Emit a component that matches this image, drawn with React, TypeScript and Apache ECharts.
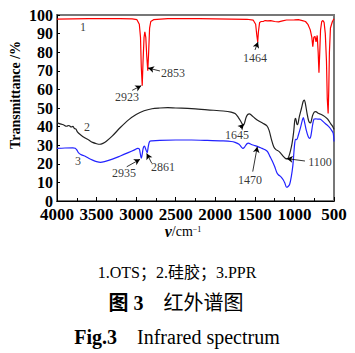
import React, { useEffect, useRef } from "react";
import * as echarts from "echarts";

const xTicks = [4000, 3500, 3000, 2500, 2000, 1500, 1000, 500];
const yTicks = [0, 10, 20, 30, 40, 50, 60, 70, 80, 90, 100];

// Series 1: OTS (red)
const ots: [number, number][] = [
  [4000, 97.8], [3800, 97.9], [3600, 98], [3400, 98.1], [3200, 98], [3050, 97.9], [2990, 97.5],
  [2960, 95], [2945, 88], [2935, 72], [2923, 62], [2913, 75], [2900, 88], [2890, 91], [2878, 88],
  [2866, 78], [2853, 70], [2842, 80], [2830, 93], [2815, 96.5], [2780, 97.5], [2600, 98], [2200, 98],
  [1800, 97.8], [1600, 97.7], [1520, 97.2], [1490, 95], [1475, 89], [1464, 85.5], [1455, 91],
  [1440, 96], [1420, 96.5], [1390, 96.6], [1370, 97], [1340, 96.8], [1300, 97], [1250, 96.5],
  [1200, 96.3], [1150, 96.8], [1100, 97.3], [1000, 97.4], [950, 97.5], [900, 97], [860, 96.5],
  [830, 95], [800, 92], [780, 88], [768, 83], [755, 88], [740, 88.5], [727, 85.6], [712, 89],
  [700, 80], [690, 69], [680, 80], [670, 92], [655, 96.5], [640, 97], [625, 96], [610, 90],
  [595, 75], [585, 55], [574, 47], [566, 60], [558, 80], [545, 93], [520, 96.5], [500, 98],
];

// Series 2: silica gel (black)
const silica: [number, number][] = [
  [4000, 42], [3960, 41.5], [3920, 41], [3880, 40.2], [3850, 40.6], [3820, 39.8], [3800, 40.1],
  [3780, 39], [3760, 38.6], [3740, 37], [3700, 35.5], [3650, 34], [3600, 32.8], [3550, 31.5],
  [3500, 30.8], [3460, 30.5], [3420, 31], [3380, 32], [3300, 35], [3200, 39.5], [3100, 43.5],
  [3000, 46.5], [2900, 48.5], [2800, 49.6], [2700, 50], [2600, 50.2], [2500, 50], [2300, 49.7],
  [2100, 49], [1900, 48.4], [1800, 47.8], [1750, 47], [1710, 45], [1680, 43], [1660, 41.5],
  [1645, 40.8], [1630, 42], [1610, 45], [1590, 46.5], [1570, 46.8], [1540, 46], [1500, 44.5],
  [1450, 43], [1400, 41.8], [1350, 40.5], [1320, 38], [1290, 33], [1260, 29], [1230, 27.5],
  [1200, 26.8], [1170, 25.5], [1140, 24], [1110, 22.8], [1090, 22.7], [1070, 24], [1050, 27],
  [1030, 31], [1010, 37], [995, 43.5], [985, 44.5], [970, 41.5], [960, 41], [940, 45], [910, 50],
  [890, 53.5], [875, 54.2], [860, 52], [840, 47], [820, 43], [800, 42], [790, 42.5], [770, 46],
  [750, 47.8], [730, 48], [700, 47.2], [660, 46.5], [620, 45.5], [580, 44], [540, 41.5],
  [515, 40], [500, 38.5],
];

// Series 3: PPR (blue)
const ppr: [number, number][] = [
  [4000, 28.3], [3900, 28.5], [3800, 28.6], [3770, 28.4], [3750, 27.5], [3730, 26], [3700, 25],
  [3650, 24.2], [3600, 23], [3550, 22], [3500, 21.2], [3450, 20.8], [3400, 21.2], [3300, 22.5],
  [3200, 24.2], [3100, 26], [3020, 27.5], [2980, 28.3], [2960, 28], [2950, 26], [2935, 23],
  [2922, 25.5], [2910, 28.5], [2895, 29.5], [2880, 28], [2861, 26], [2848, 29], [2830, 32],
  [2800, 32.3], [2700, 32.6], [2500, 32.8], [2300, 32.8], [2100, 32.6], [1900, 32.3], [1800, 32],
  [1750, 31.5], [1700, 30.5], [1670, 29], [1650, 28.3], [1630, 29], [1600, 30.8], [1580, 31.1],
  [1550, 30.5], [1500, 29.8], [1470, 29.4], [1420, 28.5], [1370, 27.5], [1340, 26.5], [1310, 24],
  [1280, 21.5], [1250, 18.5], [1220, 15], [1200, 14], [1170, 13], [1140, 11.3], [1120, 9.5],
  [1100, 7.4], [1080, 7.8], [1060, 9], [1040, 13], [1020, 19], [1005, 27], [995, 31.5],
  [985, 33.2], [970, 33], [950, 35.5], [920, 40], [900, 43.5], [888, 44.8], [875, 43], [850, 38],
  [825, 34.5], [805, 33.7], [790, 35.5], [770, 41], [753, 44], [730, 44.2], [700, 44], [677, 44],
  [640, 42.8], [600, 41.3], [560, 39.7], [530, 38], [510, 36.5], [500, 32],
];

// Peak annotations: [textX, textY, label]
const peakLabels: [number, number, string][] = [
  [3116, 55.9, "2923"], [2534, 68.8, "2853"], [1498, 76.9, "1464"], [1726, 35.5, "1645"],
  [677, 21.1, "1100"], [1561, 11.3, "1470"], [3153, 15.2, "2935"], [2661, 18.4, "2861"],
  [3671, 93.5, "1"], [3621, 39.8, "2"], [3735, 21.5, "3"],
];
// Arrows: [fromX, fromY, toX, toY]
const arrows: [number, number, number, number][] = [
  [3050, 59.5, 2935, 62], [2699, 69.9, 2850, 71.5], [1498, 81.2, 1460, 85.5],
  [1688, 39.2, 1637, 41.4], [867, 21.5, 1098, 22.8], [1527, 15.8, 1469, 29.2],
  [3119, 18.4, 2951, 22.4], [2803, 20.3, 2867, 25.6],
];

const serif = "Liberation Serif";
const cjk = "Liberation Serif, Noto Sans CJK SC";

export default function App() {
  const ref = useRef<HTMLDivElement>(null);
  useEffect(() => {
    if (!ref.current) return;
    const chart = echarts.init(ref.current, null, { renderer: "svg" });
    chart.setOption({
      animation: false,
      grid: {
        left: 57, right: 21, top: 15, bottom: 152,
        show: true, borderColor: "#777", borderWidth: 2, backgroundColor: "transparent",
      },
      xAxis: {
        type: "value", inverse: true, min: 500, max: 4000, interval: 500,
        axisLine: { lineStyle: { color: "#000", width: 1 } },
        axisTick: { inside: true, length: 4, lineStyle: { color: "#000" } },
        minorTick: { show: true, splitNumber: 2, length: 3, lineStyle: { color: "#000" } },
        splitLine: { show: false },
        axisLabel: {
          color: "#000", fontFamily: serif, fontWeight: "bold", fontSize: 17, margin: 7,
          lineHeight: 12,
          formatter: (v: number) => (xTicks.includes(v) ? String(v) : ""),
        },
      },
      yAxis: {
        type: "value", min: 0, max: 100, interval: 10,
        axisLine: { show: true, lineStyle: { color: "#000", width: 1 } },
        axisTick: { show: true, inside: true, length: 3, lineStyle: { color: "#000" } },
        splitLine: { show: false },
        axisLabel: {
          color: "#000", fontFamily: serif, fontWeight: "bold", fontSize: 16, margin: 4,
          lineHeight: 10,
          formatter: (v: number) => (yTicks.includes(v) ? String(v) : ""),
        },
      },
      series: [
        {
          type: "line", data: ots, showSymbol: false, symbol: "none",
          lineStyle: { color: "#ff0000", width: 1.2 }, z: 3,
        },
        {
          type: "line", data: silica, showSymbol: false, symbol: "none", smooth: 0.3,
          lineStyle: { color: "#222", width: 1.2 }, z: 3,
        },
        {
          type: "line", data: ppr, showSymbol: false, symbol: "none", smooth: 0.3,
          lineStyle: { color: "#2222ff", width: 1.2 }, z: 3,
          markLine: {
            silent: true, symbol: ["none", "arrow"], symbolSize: [5, 6],
            label: { show: false },
            lineStyle: { color: "#000", width: 0.8, type: "solid" },
            data: arrows.map(([x1, y1, x2, y2]) => [{ coord: [x1, y1] }, { coord: [x2, y2] }]),
          },
        },
        {
          type: "scatter", symbolSize: 0, silent: true, z: 5,
          data: peakLabels.map(([x, y, t]) => ({ value: [x, y], name: t })),
          label: {
            show: true, position: "inside", formatter: (p: any) => p.name,
            color: "#000", fontFamily: serif, fontSize: 12,
          },
        },
      ],
      graphic: [
        {
          type: "text", x: 15, y: 95, rotation: Math.PI / 2,
          style: {
            text: "Transmittance /%", fontFamily: serif, fontWeight: "bold", fontSize: 14, fill: "#000",
            align: "center", verticalAlign: "middle",
          },
        },
        {
          type: "text", x: 183, y: 231,
          style: {
            text: "{v|ν}{n|/cm}{s|−1}", align: "center", verticalAlign: "middle",
            rich: {
              v: { fontFamily: serif, fontStyle: "italic", fontWeight: "bold", fontSize: 16, fill: "#000", lineHeight: 12 },
              n: { fontFamily: serif, fontSize: 14, fill: "#000", lineHeight: 12 },
              s: { fontFamily: serif, fontSize: 8, fill: "#000", verticalAlign: "top", lineHeight: 12, padding: [0, 0, 8, 0] },
            },
          },
        },
        {
          type: "text", x: 177, y: 272,
          style: {
            text: "1.OTS；2.硅胶；3.PPR", fontFamily: cjk, fontSize: 16, fill: "#000",
            align: "center", verticalAlign: "middle",
          },
        },
        {
          type: "text", x: 176, y: 303,
          style: {
            text: "{b|图 3}{r|    红外谱图}", align: "center", verticalAlign: "middle",
            rich: {
              b: { fontFamily: cjk, fontWeight: "bold", fontSize: 20, fill: "#000" },
              r: { fontFamily: cjk, fontSize: 20, fill: "#000" },
            },
          },
        },
        {
          type: "text", x: 177, y: 337,
          style: {
            text: "{b|Fig.3}{r|    Infrared spectrum}", align: "center", verticalAlign: "middle",
            rich: {
              b: { fontFamily: serif, fontWeight: "bold", fontSize: 20, fill: "#000" },
              r: { fontFamily: serif, fontSize: 20, fill: "#000" },
            },
          },
        },
      ],
    });
    return () => chart.dispose();
  }, []);
  return <div ref={ref} style={{ width: 355, height: 353, position: "absolute", left: 0, top: 0 }} />;
}
